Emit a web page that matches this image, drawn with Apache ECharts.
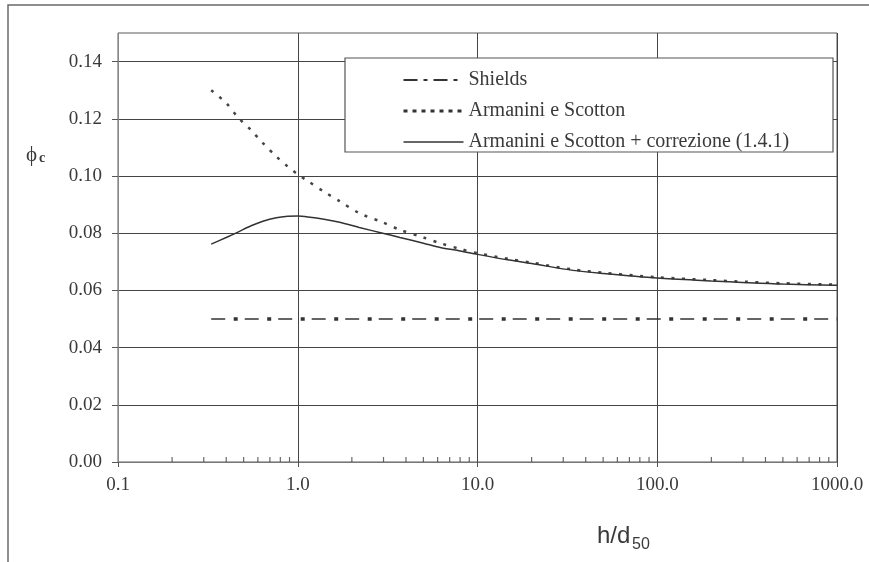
<!DOCTYPE html>
<html>
<head>
<meta charset="utf-8">
<title>Critical Shields parameter vs h/d50</title>
<script src="https://cdn.jsdelivr.net/npm/echarts@6/dist/echarts.min.js"></script>
<style>
  html, body { margin: 0; padding: 0; background: #ffffff; }
  #chart { width: 869px; height: 562px; }
</style>
</head>
<body>
<div id="chart"></div>
<script>
// Relative submergence h/d50 (log scale)
const hd50 = [0.33, 0.4, 0.465, 0.55, 0.64, 0.76, 0.88, 1.0, 1.14, 1.4, 1.71, 2.2, 2.97, 3.7,
              5, 6.2, 8, 10, 15, 20, 34, 50, 100, 200, 315, 500, 1000];

// Armanini e Scotton
const armaniniScotton = [0.1300, 0.1255, 0.1205, 0.1160, 0.1115, 0.1068, 0.1033, 0.1006, 0.0982,
                         0.0945, 0.0912, 0.0870, 0.0838, 0.0812, 0.0785, 0.0765, 0.0745, 0.0730,
                         0.0710, 0.0697, 0.0673, 0.0662, 0.0646, 0.0636, 0.0630, 0.0625, 0.0620];

// Armanini e Scotton + correzione (1.4.1)
const armaniniCorretto = [0.0762, 0.0785, 0.0804, 0.0826, 0.0842, 0.0854, 0.0859, 0.0860, 0.0857,
                          0.0849, 0.0838, 0.0820, 0.0800, 0.0785, 0.0765, 0.0750, 0.0738, 0.0726,
                          0.0706, 0.0694, 0.0670, 0.0659, 0.0643, 0.0633, 0.0627, 0.0622, 0.0618];

// Shields (constant)
const shieldsX = [0.33, 1000];
const shieldsY = [0.05, 0.05];

// Axis ticks
const yTicks = [0, 0.02, 0.04, 0.06, 0.08, 0.10, 0.12, 0.14];
const xMinorTicks = [0.2, 0.3, 0.4, 0.5, 0.6, 0.7, 0.8, 0.9,
                     2, 3, 4, 5, 6, 7, 8, 9,
                     20, 30, 40, 50, 60, 70, 80, 90,
                     200, 300, 400, 500, 600, 700, 800, 900];

const seriesNames = ['Shields', 'Armanini e Scotton', 'Armanini e Scotton + correzione (1.4.1)'];

const pairs = (xs, ys) => xs.map((x, i) => [x, ys[i]]);

const ink = '#3a3a3a';
const serif = '"Liberation Serif", "Times New Roman", serif';
const sans = '"Liberation Sans", Arial, sans-serif';
const hiddenSymbol = { opacity: 0, color: 'rgba(0,0,0,0)', borderWidth: 0 };

const chart = echarts.init(document.getElementById('chart'), null, { renderer: 'canvas' });

chart.setOption({
  animation: false,
  backgroundColor: '#ffffff',
  grid: {
    left: 118, right: 32, top: 33, bottom: 100,
    show: true, borderColor: '#5a5a5a', borderWidth: 1
  },
  xAxis: {
    type: 'log', logBase: 10, min: 0.1, max: 1000,
    axisLine: { show: true, lineStyle: { color: '#777', width: 1 } },
    axisTick: { show: true, length: 5, lineStyle: { color: '#555' } },
    splitLine: { show: true, lineStyle: { color: '#444', width: 1 } },
    axisLabel: {
      margin: 14, color: ink, fontFamily: serif, fontSize: 19,
      formatter: v => v.toFixed(1)
    }
  },
  yAxis: {
    type: 'value', min: 0, max: 0.15, interval: 0.02,
    axisLine: { show: true, lineStyle: { color: '#888', width: 1 } },
    axisTick: { show: true, length: 6, customValues: yTicks, lineStyle: { color: '#555' } },
    splitLine: { show: true, lineStyle: { color: '#444', width: 1 } },
    axisLabel: {
      margin: 16, color: ink, fontFamily: serif, fontSize: 19,
      customValues: yTicks,
      formatter: v => v.toFixed(2)
    }
  },
  legend: {
    orient: 'vertical', left: 402, top: 70, z: 10,
    itemWidth: 60, itemHeight: 14, itemGap: 11, padding: 0,
    itemStyle: hiddenSymbol,
    textStyle: { color: ink, fontFamily: serif, fontSize: 20, lineHeight: 20 },
    data: [
      { name: seriesNames[0], itemStyle: hiddenSymbol,
        lineStyle: { type: [14, 6, 4, 6], width: 2, color: '#333' } },
      { name: seriesNames[1], itemStyle: hiddenSymbol,
        lineStyle: { type: [4, 5], width: 3, color: '#333' } },
      { name: seriesNames[2], itemStyle: hiddenSymbol,
        lineStyle: { type: 'solid', width: 1.5, color: '#333' } }
    ]
  },
  graphic: [
    // page frame
    {
      type: 'polyline', silent: true, z: 1,
      shape: { points: [[8, 562], [8, 5], [869, 5]] },
      style: { stroke: '#6a6a6a', lineWidth: 1.5, fill: null }
    },
    // legend box
    {
      type: 'rect', silent: true, z: 5,
      shape: { x: 345, y: 58, width: 488, height: 94 },
      style: { fill: '#ffffff', stroke: '#555', lineWidth: 1.2 }
    },
    // y-axis name: phi_c
    {
      type: 'text', silent: true, z: 5, left: 26, top: 145,
      style: { text: 'ϕ', fill: ink, font: '21px ' + serif }
    },
    {
      type: 'text', silent: true, z: 5, left: 39, top: 151,
      style: { text: 'c', fill: ink, font: 'bold 14px ' + serif }
    },
    // x-axis name: h/d50
    {
      type: 'text', silent: true, z: 5, left: 597, top: 524,
      style: { text: 'h/d', fill: ink, font: '24px ' + sans }
    },
    {
      type: 'text', silent: true, z: 5, left: 632, top: 537,
      style: { text: '50', fill: ink, font: '16px ' + sans }
    }
  ],
  series: [
    {
      name: seriesNames[0], type: 'line', symbol: 'none', z: 3,
      data: pairs(shieldsX, shieldsY),
      lineStyle: { color: '#333', width: 1.5, type: [14, 19.5], dashOffset: 0 }
    },
    {
      name: seriesNames[0], type: 'line', symbol: 'none', z: 3,
      data: pairs(shieldsX, shieldsY),
      lineStyle: { color: '#333', width: 3.5, type: [4, 29.5], dashOffset: 11 }
    },
    {
      name: seriesNames[1], type: 'line', symbol: 'none', smooth: 0.3, z: 3,
      data: pairs(hd50, armaniniScotton),
      lineStyle: { color: '#444', width: 2.5, type: [3, 7.5] }
    },
    {
      name: seriesNames[2], type: 'line', symbol: 'none', smooth: 0.3, z: 4,
      data: pairs(hd50, armaniniCorretto),
      lineStyle: { color: '#333', width: 1.5, type: 'solid' }
    },
    {
      // minor ticks on the logarithmic axis
      name: 'minorTicks', type: 'scatter', silent: true, z: 4,
      symbol: 'rect', symbolSize: [1.2, 5], symbolOffset: [0, -2.5],
      itemStyle: { color: '#444' },
      data: xMinorTicks.map(v => [v, 0])
    }
  ]
});
</script>
</body>
</html>
